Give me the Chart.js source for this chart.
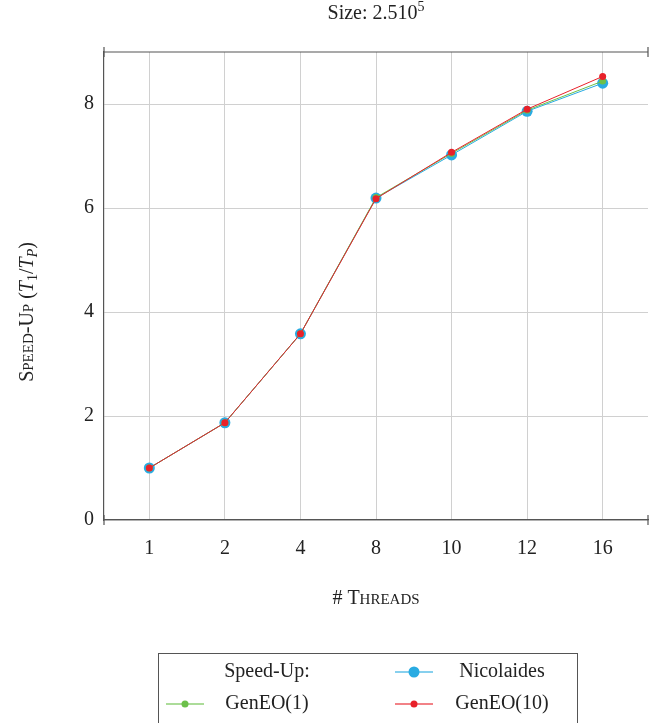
<!DOCTYPE html>
<html><head><meta charset="utf-8">
<script src="https://cdn.jsdelivr.net/npm/chart.js@4"></script>
<style>html,body{margin:0;padding:0;background:#fff}canvas{display:block}</style>
</head><body>
<canvas id="c" width="650" height="723"></canvas>
<script>
const threads = ['1','2','4','8','10','12','16'];
const nicolaides = [1.0, 1.87, 3.58, 6.19, 7.02, 7.86, 8.40];
const geneo1 = [1.0, 1.87, 3.58, 6.20, 7.05, 7.88, 8.44];
const geneo10 = [1.0, 1.87, 3.58, 6.18, 7.07, 7.90, 8.53];
const yTicks = [0, 2, 4, 6, 8];

const FONT = '"Liberation Serif", "DejaVu Serif", serif';
const BLUE = '#29abe2', GREEN = '#6cc04a', RED = '#e8212a';
const toPts = arr => arr.map((v, i) => ({x: i, y: v}));

function drawSegs(ctx, segs, cx, cy) {
  let w = 0;
  segs.forEach(s => { ctx.font = (s.it ? 'italic ' : '') + s.sz + 'px ' + FONT; s.w = ctx.measureText(s.t).width; w += s.w; });
  let x = cx - w / 2;
  ctx.textBaseline = 'alphabetic'; ctx.textAlign = 'left';
  segs.forEach(s => { ctx.font = (s.it ? 'italic ' : '') + s.sz + 'px ' + FONT; ctx.fillText(s.t, x, cy + (s.dy || 0)); x += s.w; });
}

const deco = {
  id: 'deco',
  afterDraw(chart) {
    const ctx = chart.ctx, a = chart.chartArea;
    ctx.save();
    ctx.strokeStyle = '#555'; ctx.lineWidth = 1.2;
    ctx.beginPath(); ctx.moveTo(a.left, a.top); ctx.lineTo(a.right, a.top); ctx.stroke();
    ctx.beginPath();
    [a.top, a.bottom].forEach(y => { ctx.moveTo(a.left, y - 5); ctx.lineTo(a.left, y + 5); ctx.moveTo(a.right, y - 5); ctx.lineTo(a.right, y + 5); });
    ctx.stroke();
    ctx.fillStyle = '#222';
    drawSegs(ctx, [{t: 'Size: 2.510', sz: 20}, {t: '5', sz: 14, dy: -8}], (a.left + a.right) / 2, 19);
    drawSegs(ctx, [{t: '# T', sz: 20}, {t: 'HREADS', sz: 15}], (a.left + a.right) / 2, 604);
    ctx.save(); ctx.translate(33, 312); ctx.rotate(-Math.PI / 2);
    drawSegs(ctx, [{t: 'S', sz: 20}, {t: 'PEED', sz: 15}, {t: '-U', sz: 20}, {t: 'P', sz: 15}, {t: ' (', sz: 20},
      {t: 'T', sz: 20, it: true}, {t: '1', sz: 14, dy: 4}, {t: '/', sz: 20}, {t: 'T', sz: 20, it: true}, {t: 'P', sz: 14, it: true, dy: 4}, {t: ')', sz: 20}], 0, 0);
    ctx.restore();
    ctx.strokeStyle = '#555'; ctx.lineWidth = 1;
    ctx.strokeRect(158.5, 653.5, 419, 80);
    ctx.font = '20px ' + FONT; ctx.textBaseline = 'middle'; ctx.textAlign = 'center';
    ctx.fillText('Speed-Up:', 267, 672);
    const items = [
      {ds: chart.data.datasets.find(d => d.label === 'Nicolaides'), x: 395, y: 672, tx: 502},
      {ds: chart.data.datasets.find(d => d.label === 'GenEO(1)'), x: 166, y: 704, tx: 267},
      {ds: chart.data.datasets.find(d => d.label === 'GenEO(10)'), x: 395, y: 704, tx: 502}
    ];
    items.forEach(it => {
      ctx.strokeStyle = it.ds.borderColor; ctx.lineWidth = 1.4; ctx.globalAlpha = 0.75;
      ctx.beginPath(); ctx.moveTo(it.x, it.y); ctx.lineTo(it.x + 38, it.y); ctx.stroke();
      ctx.globalAlpha = 1;
      ctx.fillStyle = it.ds.pointBackgroundColor;
      ctx.beginPath(); ctx.arc(it.x + 19, it.y, it.ds.pointRadius, 0, Math.PI * 2); ctx.fill();
      ctx.fillStyle = '#222';
      ctx.fillText(it.ds.label, it.tx, it.y);
    });
    ctx.restore();
  }
};

new Chart(document.getElementById('c'), {
  type: 'line',
  data: {
    datasets: [
      {label: 'GenEO(10)', data: toPts(geneo10), borderColor: RED, backgroundColor: RED, pointBackgroundColor: RED, pointBorderWidth: 0, pointRadius: 3.5, borderWidth: 1, order: 0},
      {label: 'GenEO(1)', data: toPts(geneo1), borderColor: GREEN, backgroundColor: GREEN, pointBackgroundColor: GREEN, pointBorderWidth: 0, pointRadius: 3.5, borderWidth: 1, order: 1},
      {label: 'Nicolaides', data: toPts(nicolaides), borderColor: BLUE, backgroundColor: BLUE, pointBackgroundColor: BLUE, pointBorderWidth: 0, pointRadius: 5.5, borderWidth: 1, order: 2}
    ]
  },
  options: {
    responsive: false, animation: false, devicePixelRatio: 1,
    layout: {autoPadding: false, padding: {top: 52, right: 2, left: 0, bottom: 0}},
    plugins: {legend: {display: false}, title: {display: false}, tooltip: {enabled: false}},
    scales: {
      x: {
        type: 'linear', min: -0.6, max: 6.6,
        afterBuildTicks: s => { s.ticks = threads.map((t, i) => ({value: i})); },
        afterFit: s => { s.height = 203; s.paddingLeft = 0; s.paddingRight = 0; },
        ticks: {callback: v => threads[v], font: {family: FONT, size: 20}, color: '#222', padding: 17, maxRotation: 0, autoSkip: false},
        grid: {color: '#d0d0d0', lineWidth: 1, tickLength: 0},
        border: {color: '#555', width: 1.2}
      },
      y: {
        min: 0, max: 9,
        afterBuildTicks: s => { s.ticks = yTicks.map(v => ({value: v})); },
        afterFit: s => { s.width = 104; s.paddingTop = 0; s.paddingBottom = 0; },
        ticks: {font: {family: FONT, size: 20}, color: '#222', padding: 10},
        grid: {color: '#d0d0d0', lineWidth: 1, tickLength: 0},
        border: {color: '#555', width: 1.2}
      }
    }
  },
  plugins: [deco]
});
</script>
</body></html>
